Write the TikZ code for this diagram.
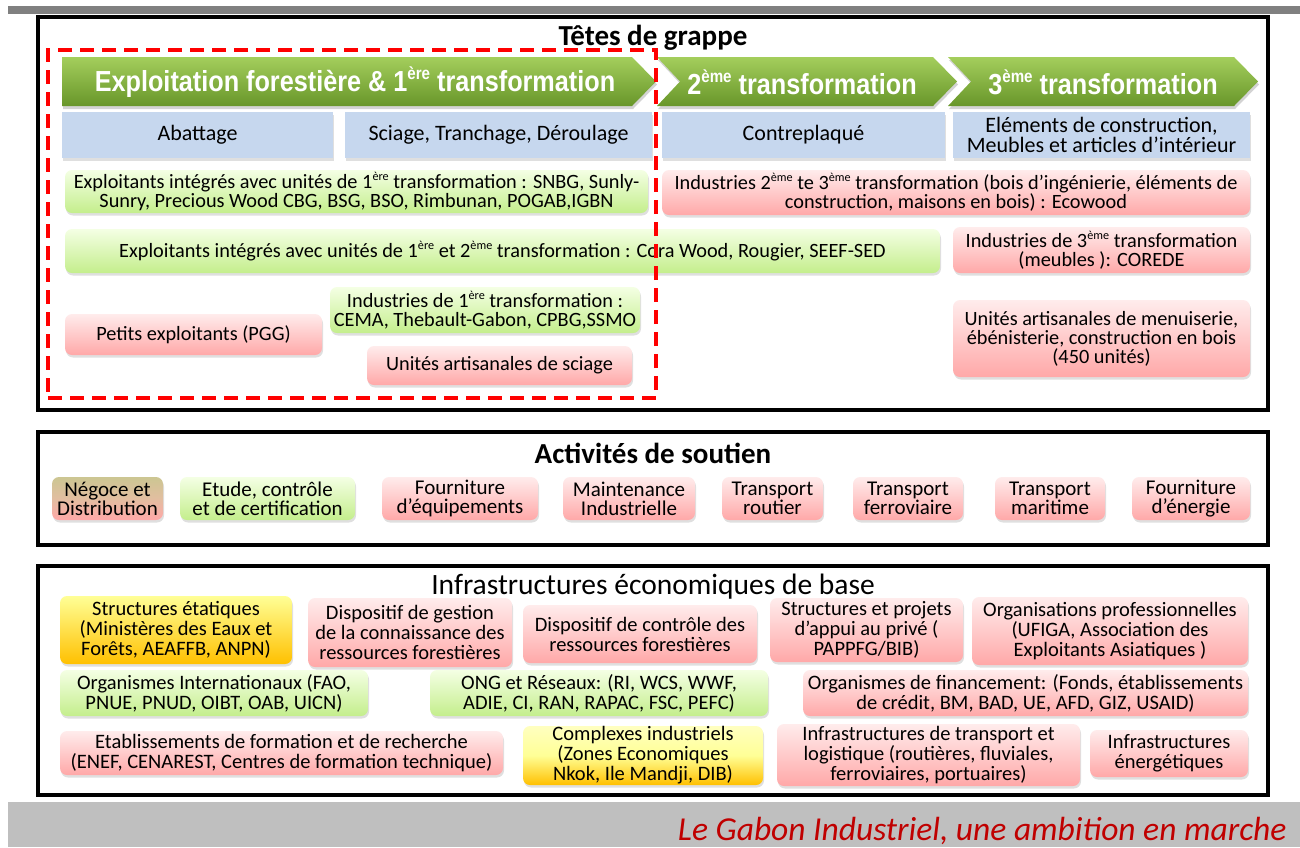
\documentclass[tikz,border=0pt]{standalone}
\usepackage{fontspec}
\setmainfont{Carlito}
\newfontfamily\chevfont[FakeStretch=0.87]{Liberation Sans}
\usetikzlibrary{positioning,shadows}

\newcommand\expo[1]{\raisebox{0.8ex}{\scalebox{0.6}{#1}}}

\definecolor{pinktop}{RGB}{255,236,236}
\definecolor{pinkbot}{RGB}{255,168,168}
\definecolor{greentop}{RGB}{244,255,228}
\definecolor{greenbot}{RGB}{196,238,140}
\definecolor{yeltop}{RGB}{255,255,150}
\definecolor{yelbot}{RGB}{255,192,0}
\definecolor{tantop}{RGB}{204,198,146}
\definecolor{tanmid}{RGB}{226,190,160}
\definecolor{headblue}{RGB}{198,215,238}
\definecolor{chevtop}{RGB}{164,206,92}
\definecolor{chevbot}{RGB}{104,150,42}
\definecolor{slogan}{RGB}{192,0,0}

\tikzset{
    spot/.style args={#1/#2/#3/#4}{minimum width=#3-#1, minimum height=#4-#2,
        at={(#1/2+#3/2,#2/2+#4/2)}},
    frame/.style={draw=black, line width=3.5pt, inner sep=0pt},
    title/.style={font=\fontsize{29}{30}\selectfont\bfseries},
    card/.style={rounded corners=7pt, inner sep=0pt, align=center,
        font=\fontsize{20.5}{20}\selectfont,
        drop shadow={opacity=0.25, shadow xshift=1pt, shadow yshift=-2.5pt}},
    rowfont/.style={font=\fontsize{20.3}{19}\selectfont},
    supfont/.style={font=\fontsize{21}{19}\selectfont},
    pinkbox/.style={card, top color=pinktop, bottom color=pinkbot},
    greenbox/.style={card, top color=greentop, bottom color=greenbot},
    yellowbox/.style={card, top color=yeltop, bottom color=yelbot},
    headbox/.style={card, rounded corners=0pt, fill=headblue,
        font=\fontsize{22}{19.5}\selectfont},
    chevshape/.style={top color=chevtop, bottom color=chevbot,
        drop shadow={opacity=0.35, shadow xshift=1pt, shadow yshift=-3pt}},
    chevtext/.style={text=white, font=\chevfont\bfseries\fontsize{29}{30}\selectfont},
    reddash/.style={draw=red, line width=4pt, dash pattern=on 14pt off 8pt,
        inner sep=0pt}
}

\begin{document}
\begin{tikzpicture}[x=1pt, y=-1pt]
    \useasboundingbox (0,0) rectangle (1300,847);
    % bandeaux
    \fill[black!50] (8,6) rectangle (1300,14);
    \fill[black!25] (8,802) rectangle (1300,847);

    % Tetes de grappe
    \node[frame, spot=38/17/1268/410] (grappe) {};
    \node[title] (tgrappe) at (653,38) {Têtes de grappe};
    \path[chevshape] (62,57) -- (632,57) -- (656,81.5) -- (632,106) -- (62,106) -- cycle;
    \path[chevshape] (657,57) -- (933,57) -- (957,81.5) -- (933,106) -- (657,106)
        -- (680,81.5) -- cycle;
    \path[chevshape] (948,57) -- (1234,57) -- (1258,81.5) -- (1234,106) -- (948,106)
        -- (971,81.5) -- cycle;
    \node[chevtext] (exploit) at (355,82)
        {Exploitation forestière \& 1\expo{ère} transformation};
    \node[chevtext] (deux) at (802,82) {2\expo{ème} transformation};
    \node[chevtext] (trois) at (1103,82) {3\expo{ème} transformation};

    \node[headbox, spot=62/112/333/158] (abattage) {Abattage};
    \node[headbox, spot=345/112/652/158] (sciage) {Sciage, Tranchage, Déroulage};
    \node[headbox, spot=662/112/945/158] (contre) {Contreplaqué};
    \node[headbox, spot=953/112/1250/158] (elements)
        {Eléments de construction,\\Meubles et articles d’intérieur};

    \node[greenbox, rowfont, spot=65/170/648/213] (integun)
        {Exploitants intégrés avec unités de 1\expo{ère} transformation : SNBG, Sunly-\\
         Sunry, Precious Wood CBG, BSG, BSO, Rimbunan, POGAB,IGBN};
    \node[pinkbox, rowfont, spot=662/170/1250/215] (ecowood)
        {Industries 2\expo{ème} te 3\expo{ème} transformation (bois d’ingénierie, éléments de\\
         construction, maisons en bois) : Ecowood};
    \node[greenbox, rowfont, spot=65/229/940/273] (integdeux)
        {Exploitants intégrés avec unités de 1\expo{ère} et 2\expo{ème} transformation : Cora Wood, Rougier, SEEF-SED};
    \node[pinkbox, rowfont, spot=953/227/1250/273] (corede)
        {Industries de 3\expo{ème} transformation\\(meubles ): COREDE};
    \node[pinkbox, rowfont, spot=65/314/322/355] (pgg)
        {Petits exploitants (PGG)};
    \node[greenbox, rowfont, spot=330/287/640/333] (induun)
        {Industries de 1\expo{ère} transformation :\\CEMA, Thebault-Gabon, CPBG,SSMO};
    \node[pinkbox, rowfont, spot=367/346/632/385] (artsciage)
        {Unités artisanales de sciage};
    \node[pinkbox, rowfont, spot=953/300/1250/377] (menuis)
        {Unités artisanales de menuiserie,\\ébénisterie, construction en bois\\(450 unités)};

    % Activites de soutien
    \node[frame, spot=38/432/1268/545] (soutien) {};
    \node[title] (tsoutien) at (653,453) {Activités de soutien};
    \node[card, supfont, top color=tantop, bottom color=pinkbot, middle color=tanmid,
        spot=52/477/163/520] (negoce) {Négoce et\\Distribution};
    \node[greenbox, supfont, spot=180/477/355/520] (etude) {Etude, contrôle\\et de certification};
    \node[pinkbox, supfont, spot=382/477/538/520] (equip) {Fourniture\\d’équipements};
    \node[pinkbox, supfont, spot=563/477/695/520] (maint) {Maintenance\\Industrielle};
    \node[pinkbox, supfont, spot=722/477/823/520] (troute) {Transport\\routier};
    \node[pinkbox, supfont, spot=853/477/963/520] (tferro) {Transport\\ferroviaire};
    \node[pinkbox, supfont, spot=995/477/1105/520] (tmari) {Transport\\maritime};
    \node[pinkbox, supfont, spot=1132/477/1250/520] (energie) {Fourniture\\d’énergie};

    % Infrastructures economiques de base
    \node[frame, spot=38/566/1268/795] (infra) {};
    \node[title, font=\fontsize{29.5}{30}\selectfont] (tinfra) at (653,587)
        {Infrastructures économiques de base};
    \node[yellowbox, spot=60/596/292/664] (etat)
        {Structures étatiques\\(Ministères des Eaux et\\Forêts, AEAFFB, ANPN)};
    \node[pinkbox, spot=308/598/512/667] (gestion)
        {Dispositif de gestion\\de la connaissance des\\ressources forestières};
    \node[pinkbox, spot=523/605/757/663] (controle)
        {Dispositif de contrôle des\\ressources forestières};
    \node[pinkbox, spot=770/598/963/662] (appui)
        {Structures et projets\\d’appui au privé (\\PAPPFG/BIB)};
    \node[pinkbox, spot=972/597/1248/665] (orgpro)
        {Organisations professionnelles\\(UFIGA, Association des\\Exploitants Asiatiques )};
    \node[greenbox, spot=60/670/368/716] (orgint)
        {Organismes Internationaux (FAO,\\PNUE, PNUD, OIBT, OAB, UICN)};
    \node[greenbox, spot=430/670/768/716] (ong)
        {ONG et Réseaux: (RI, WCS, WWF,\\ADIE, CI, RAN, RAPAC, FSC, PEFC)};
    \node[pinkbox, spot=803/670/1248/716] (finance)
        {Organismes de financement: (Fonds, établissements\\de crédit, BM, BAD, UE, AFD, GIZ, USAID)};
    \node[pinkbox, spot=60/731/503/775] (formation)
        {Etablissements de formation et de recherche\\(ENEF, CENAREST, Centres de formation technique)};
    \node[yellowbox, top color=yeltop!60, middle color=yeltop, spot=523/726/763/785] (complexes)
        {Complexes industriels\\(Zones Economiques\\Nkok, Ile Mandji, DIB)};
    \node[pinkbox, spot=777/724/1080/786] (transport)
        {Infrastructures de transport et\\logistique (routières, fluviales,\\ferroviaires, portuaires)};
    \node[pinkbox, spot=1090/730/1248/777] (energies)
        {Infrastructures\\énergétiques};

    % zone exploitation & 1ere transformation
    \node[reddash, spot=48/50/656/398] (zone) {};

    \node[anchor=base east, text=slogan, font=\fontsize{33.5}{34}\selectfont\itshape] (slogan)
        at (1290,840) {Le Gabon Industriel, une ambition en marche};
\end{tikzpicture}
\end{document}
